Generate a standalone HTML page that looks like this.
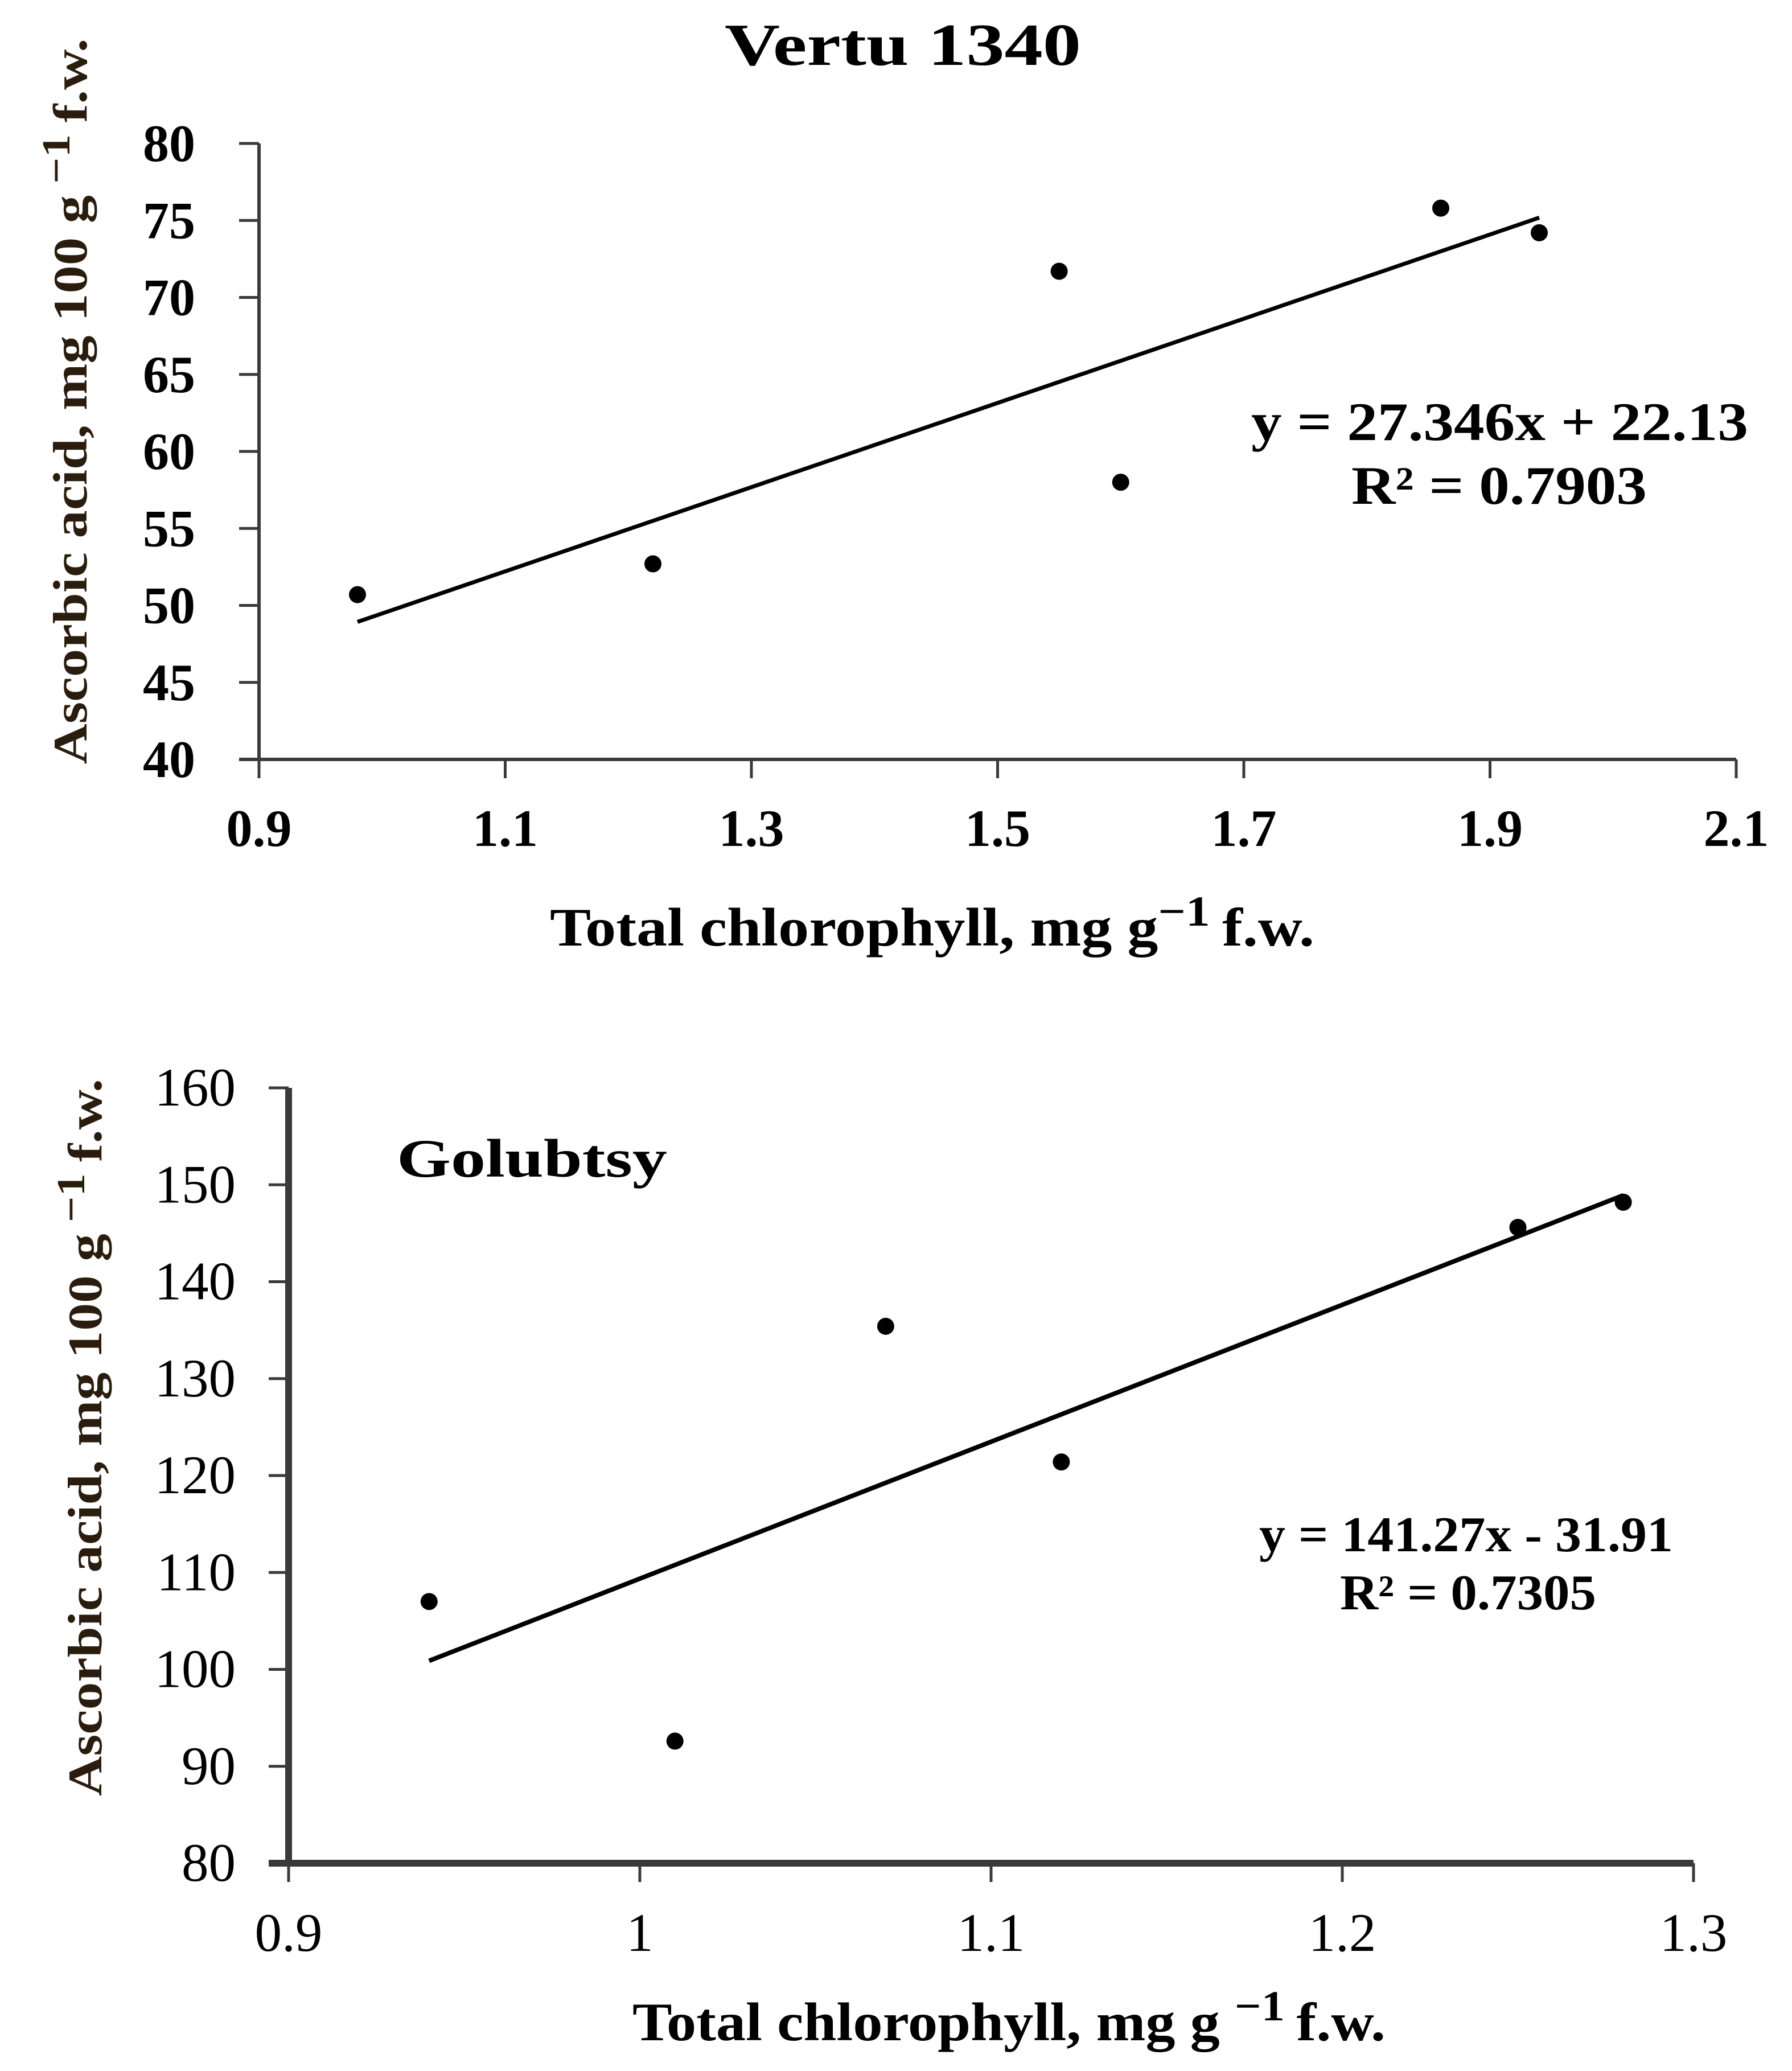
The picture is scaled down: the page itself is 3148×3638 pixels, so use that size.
<!DOCTYPE html>
<html><head><meta charset="utf-8"><style>
html,body{margin:0;padding:0;background:#fff;}
svg{display:block;}
text{font-family:"Liberation Serif",serif;fill:#000;}
</style></head>
<body>
<svg id="fig" width="3148" height="3638" viewBox="0 0 3148 3638" xmlns="http://www.w3.org/2000/svg">
<rect width="3148" height="3638" fill="#fff"/>
<g id="c1"></g>
<g id="c2"></g>
<text x="1273" y="114" font-size="105" font-weight="bold" textLength="626" lengthAdjust="spacingAndGlyphs">Vertu 1340</text>
<text x="2198" y="773" font-size="95" font-weight="bold" textLength="873" lengthAdjust="spacingAndGlyphs">y = 27.346x + 22.13</text>
<text x="2374" y="885" font-size="95" font-weight="bold" textLength="519" lengthAdjust="spacingAndGlyphs">R² = 0.7903</text>
<text x="966" y="1661" font-size="95" font-weight="bold" textLength="1343" lengthAdjust="spacingAndGlyphs">Total chlorophyll, mg g<tspan font-size="75" dy="-35">−1 </tspan><tspan dy="35">f.w.</tspan></text>
<text transform="translate(152,705) rotate(-90)" text-anchor="middle" font-size="85" font-weight="bold" style="fill:#2b1d0e" textLength="1275" lengthAdjust="spacingAndGlyphs">Ascorbic acid, mg 100 g<tspan font-size="70" dy="-30"> −1 </tspan><tspan dy="30">f.w.</tspan></text>

<text x="697" y="2067" font-size="95" font-weight="bold" textLength="475" lengthAdjust="spacingAndGlyphs">Golubtsy</text>
<text x="2212" y="2725" font-size="88" font-weight="bold" textLength="727" lengthAdjust="spacingAndGlyphs">y = 141.27x - 31.91</text>
<text x="2354" y="2827" font-size="88" font-weight="bold" textLength="450" lengthAdjust="spacingAndGlyphs">R² = 0.7305</text>
<text x="1111" y="3584" font-size="95" font-weight="bold" textLength="1323" lengthAdjust="spacingAndGlyphs">Total chlorophyll, mg g <tspan font-size="75" dy="-35">−1 </tspan><tspan dy="35">f.w.</tspan></text>
<text transform="translate(178,2525) rotate(-90)" text-anchor="middle" font-size="85" font-weight="bold" style="fill:#2b1d0e" textLength="1260" lengthAdjust="spacingAndGlyphs">Ascorbic acid, mg 100 g<tspan font-size="70" dy="-30"> −1 </tspan><tspan dy="30">f.w.</tspan></text>
</svg>
<script>
// Chart 1 data (Vertu 1340)
const v_xTicks = [0.9, 1.1, 1.3, 1.5, 1.7, 1.9, 2.1];
const v_xTickLabels = ["0.9", "1.1", "1.3", "1.5", "1.7", "1.9", "2.1"];
const v_yTicks = [40, 45, 50, 55, 60, 65, 70, 75, 80];
const v_yTickLabels = ["40", "45", "50", "55", "60", "65", "70", "75", "80"];
const v_x = [0.98, 1.22, 1.55, 1.60, 1.86, 1.94];
const v_y = [50.7, 52.7, 71.7, 58.0, 75.8, 74.2];
const v_fit = [27.346, 22.13];
// Chart 2 data (Golubtsy)
const g_xTicks = [0.9, 1.0, 1.1, 1.2, 1.3];
const g_xTickLabels = ["0.9", "1", "1.1", "1.2", "1.3"];
const g_yTicks = [80, 90, 100, 110, 120, 130, 140, 150, 160];
const g_yTickLabels = ["80", "90", "100", "110", "120", "130", "140", "150", "160"];
const g_x = [0.94, 1.01, 1.07, 1.12, 1.25, 1.28];
const g_y = [107.0, 92.6, 135.4, 121.4, 145.6, 148.2];
const g_fit = [141.27, -31.91];

const NS = "http://www.w3.org/2000/svg";
function mk(parent, tag, attrs) {
  const e = document.createElementNS(NS, tag);
  for (const k in attrs) e.setAttribute(k, attrs[k]);
  parent.appendChild(e);
  return e;
}
function draw(g, cfg, xs, ys, fit, xT, xTL, yT, yTL, prefix) {
  const sx = v => cfg.x0 + (v - cfg.xmin) / (cfg.xmax - cfg.xmin) * (cfg.x1 - cfg.x0);
  const sy = v => cfg.y0 - (v - cfg.ymin) / (cfg.ymax - cfg.ymin) * (cfg.y0 - cfg.y1);
  const ax = mk(g, "line", {x1: cfg.x0, y1: cfg.y1, x2: cfg.x0, y2: cfg.y0, stroke: "#3a3a3a", "stroke-width": cfg.axw});
  
  
  const ax2 = mk(g, "line", {x1: cfg.x0 - 35, y1: cfg.y0, x2: cfg.x1, y2: cfg.y0, stroke: "#3a3a3a", "stroke-width": cfg.axw});
  
  
  yT.forEach((v, i) => {
    const y = sy(v);
    const t = mk(g, "line", {x1: cfg.x0 - 35, y1: y, x2: cfg.x0, y2: y, stroke: "#3a3a3a", "stroke-width": 5});
    
    
    const l = mk(g, "text", {x: cfg.ylabX, y: y + 31, "text-anchor": "end", "font-size": cfg.fs, "font-weight": cfg.fw});
    l.textContent = yTL[i];
    
    
  });
  xT.forEach((v, i) => {
    const x = sx(v);
    const t = mk(g, "line", {x1: x, y1: cfg.y0, x2: x, y2: cfg.y0 + 33, stroke: "#3a3a3a", "stroke-width": 5});
    
    
    const l = mk(g, "text", {x: x, y: cfg.xlabY, "text-anchor": "middle", "font-size": cfg.fs, "font-weight": cfg.fw});
    l.textContent = xTL[i];
    
    
  });
  const xmn = Math.min(...xs), xmx = Math.max(...xs);
  const tl = mk(g, "line", {x1: sx(xmn), y1: sy(fit[0] * xmn + fit[1]), x2: sx(xmx), y2: sy(fit[0] * xmx + fit[1]), stroke: "#000", "stroke-width": cfg.tlw});
  
  
  xs.forEach((v, i) => {
    const c = mk(g, "circle", {cx: sx(v), cy: sy(ys[i]), r: 15, fill: "#000"});
    
    
  });
}
draw(document.getElementById("c1"),
  {x0: 455, x1: 3050, xmin: 0.9, xmax: 2.1, y0: 1334, y1: 252, ymin: 40, ymax: 80, axw: 6, tlw: 7, ylabX: 343, xlabY: 1486, fs: 92, fw: "bold"},
  v_x, v_y, v_fit, v_xTicks, v_xTickLabels, v_yTicks, v_yTickLabels, "vertu");
draw(document.getElementById("c2"),
  {x0: 507, x1: 2975, xmin: 0.9, xmax: 1.3, y0: 3273, y1: 1911, ymin: 80, ymax: 160, axw: 12, tlw: 8, ylabX: 414, xlabY: 3427, fs: 95, fw: "normal"},
  g_x, g_y, g_fit, g_xTicks, g_xTickLabels, g_yTicks, g_yTickLabels, "golubtsy");
</script>
</body></html>
